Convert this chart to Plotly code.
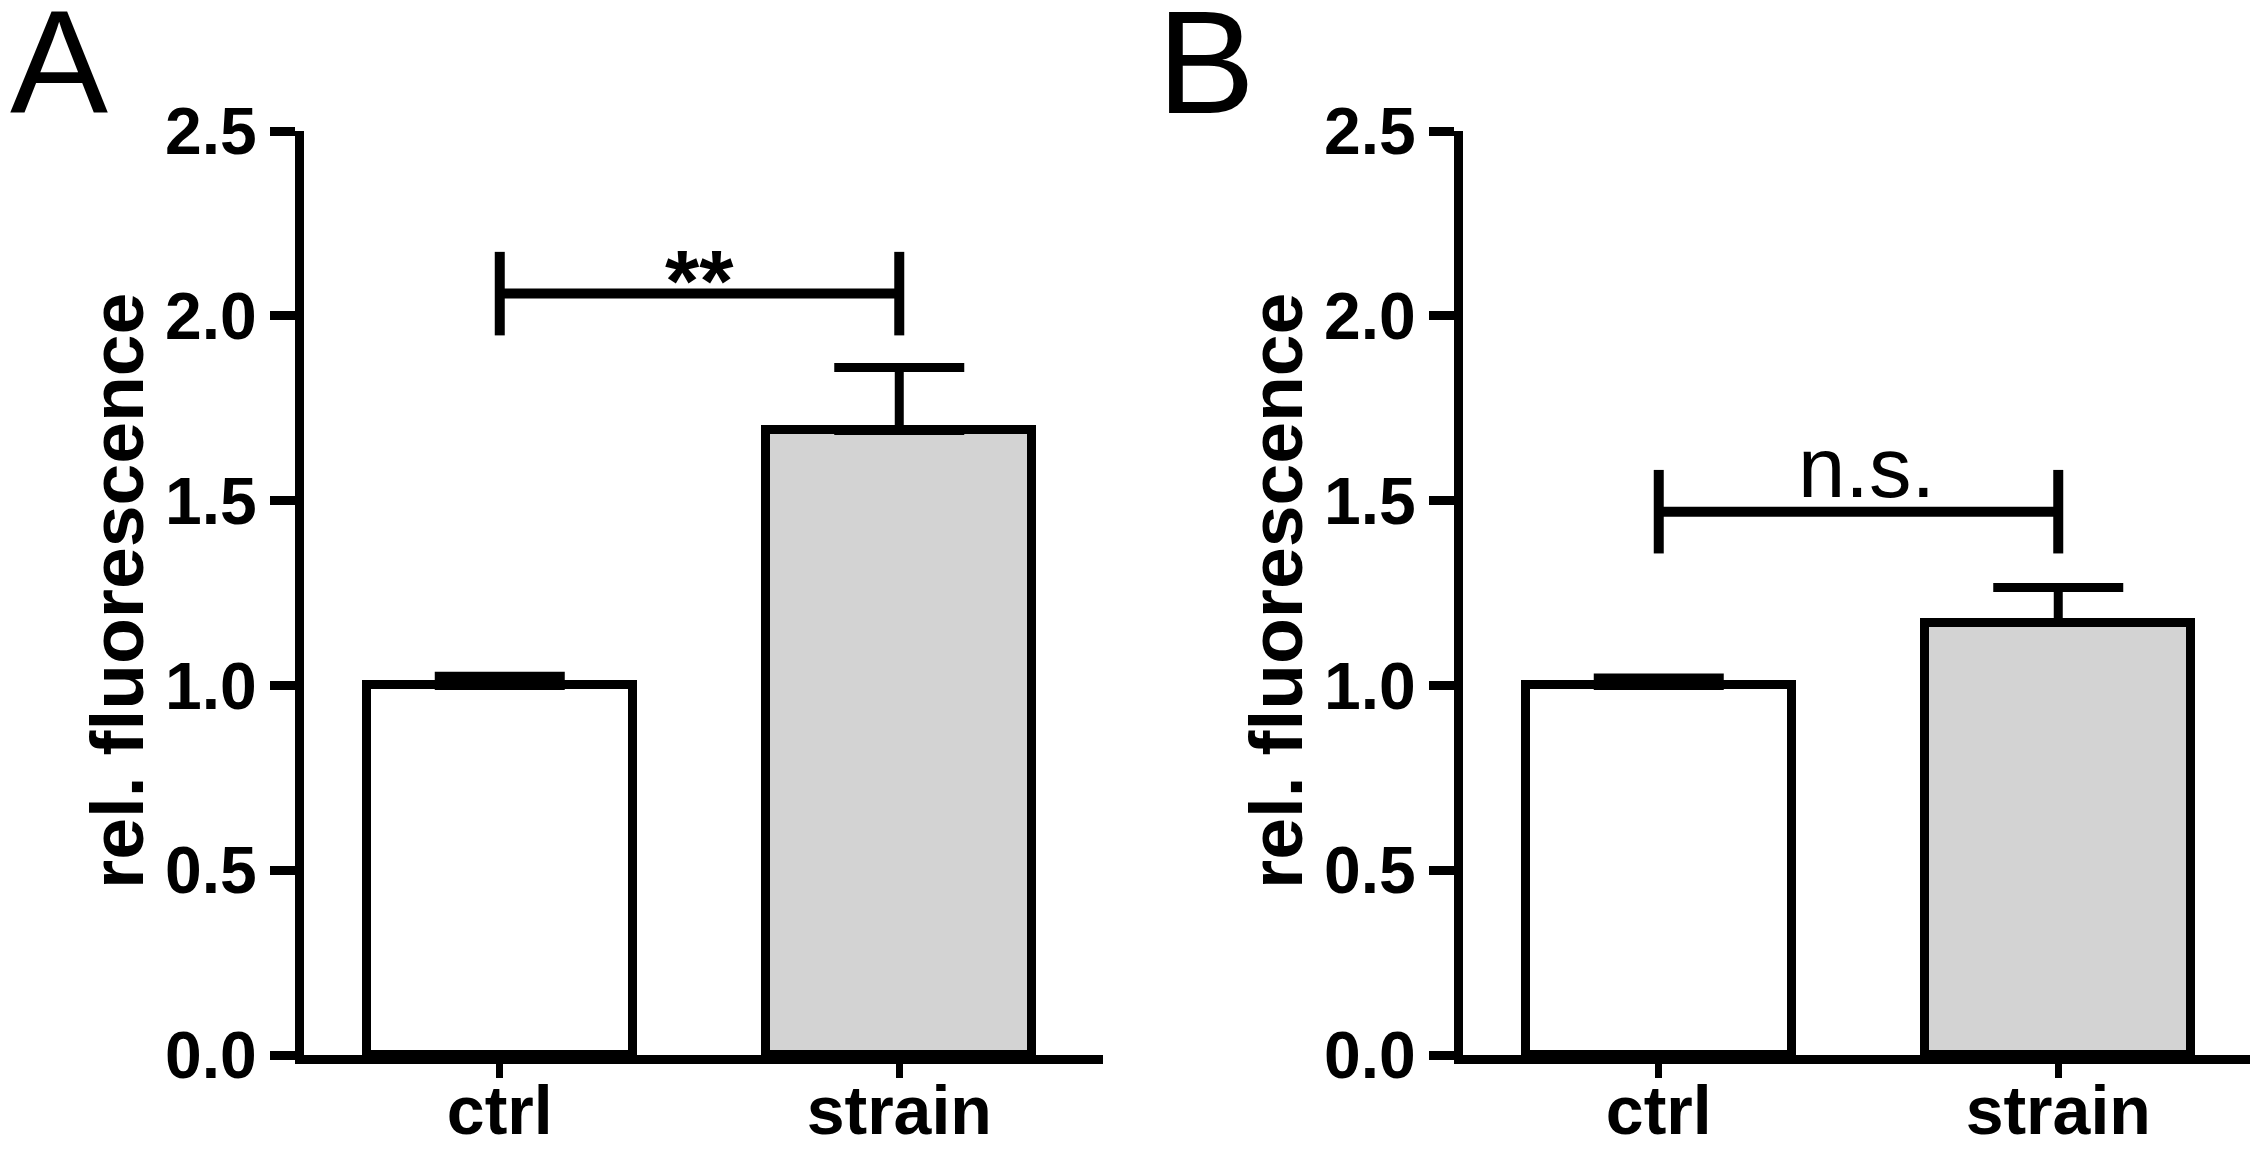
import plotly.graph_objects as go

# the page body keeps an 8 px margin, so the figure is laid out 8 px in from the window
OFF = 8
W, H = 2258 - OFF, 1151 - OFF

categories = ["ctrl", "strain"]
tick_vals = [0.0, 0.5, 1.0, 1.5, 2.0, 2.5]
tick_text = ["0.0", "0.5", "1.0", "1.5", "2.0", "2.5"]
y_title = "rel. fluorescence"

# panel A
means_a = [1.0, 1.69]
sem_a = [0.025, 0.17]
sig_a = "**"
bracket_a = 2.06

# panel B
means_b = [1.0, 1.17]
sem_b = [0.02, 0.095]
sig_b = "n.s."
bracket_b = 1.47

bracket_half = 0.113
bar_colors = ["white", "#d3d3d3"]

FONT = "Arial, Liberation Sans, sans-serif"


def px_x(p):
    return (p - OFF) / W


def px_y(p):
    return 1 - (p - OFF) / H


fig = go.Figure()

panels = [
    ("x", "y", means_a, sem_a, bracket_a),
    ("x2", "y2", means_b, sem_b, bracket_b),
]
for xa, ya, means, sem, br in panels:
    fig.add_trace(go.Bar(
        x=categories, y=means, xaxis=xa, yaxis=ya, width=0.665,
        marker=dict(color=bar_colors, line=dict(color="black", width=9)),
        error_y=dict(type="data", array=sem, arrayminus=[0, 0], symmetric=False,
                     color="black", thickness=9, width=65),
        showlegend=False,
    ))
    # significance bracket
    fig.add_trace(go.Scatter(
        x=[categories[0], categories[0], None, categories[0], categories[1], None,
           categories[1], categories[1]],
        y=[br + bracket_half, br - bracket_half, None, br, br, None,
           br + bracket_half, br - bracket_half],
        xaxis=xa, yaxis=ya, mode="lines",
        line=dict(color="black", width=10),
        showlegend=False, hoverinfo="skip",
    ))

ydomain = [px_y(1055), px_y(131)]

axis_common = dict(showgrid=False, zeroline=False, showline=True, linecolor="black",
                   linewidth=9, ticks="outside", tickcolor="black", automargin=False)

yaxis = dict(axis_common, range=[0, 2.5], domain=ydomain, tickvals=tick_vals,
             ticktext=tick_text, ticklen=25, tickwidth=9, ticklabelstandoff=0,
             tickfont=dict(family=FONT, size=66, color="black", weight="bold"))
xaxis = dict(axis_common, range=[-0.49, 1.51], ticklen=14, tickwidth=7,
             ticklabelstandoff=-26,
             tickfont=dict(family=FONT, size=68, color="black", weight="bold"))

fig.update_layout(
    template="none",
    width=W, height=H,
    margin=dict(l=0, r=0, t=0, b=0, pad=0),
    paper_bgcolor="white", plot_bgcolor="white",
    bargap=0,
    xaxis=dict(xaxis, domain=[px_x(304), px_x(1103)], anchor="y"),
    yaxis=dict(yaxis, anchor="x"),
    xaxis2=dict(xaxis, domain=[px_x(1463), 1.0], anchor="y2", range=[-0.49, 1.5]),
    yaxis2=dict(yaxis, anchor="x2"),
)

title_font = dict(family=FONT, size=75, color="black", weight="bold")
annotations = [
    dict(text="A", x=0, y=1, xref="paper", yref="paper", xanchor="left", yanchor="top",
         yshift=30, showarrow=False, font=dict(family=FONT, size=147, color="black")),
    dict(text="B", x=px_x(1155), y=1, xref="paper", yref="paper", xanchor="left",
         yanchor="top", yshift=30, showarrow=False,
         font=dict(family=FONT, size=147, color="black")),
    dict(text=y_title, x=px_x(117), y=px_y(591), xref="paper", yref="paper",
         xanchor="center", yanchor="middle", textangle=-90, showarrow=False,
         font=title_font),
    dict(text=y_title, x=px_x(117 + 1159), y=px_y(591), xref="paper", yref="paper",
         xanchor="center", yanchor="middle", textangle=-90, showarrow=False,
         font=title_font),
    dict(text=sig_a, x=0.5, y=bracket_a, xref="x", yref="y", xanchor="center",
         yanchor="bottom", yshift=-38, showarrow=False,
         font=dict(family=FONT, size=88, color="black", weight="bold")),
    dict(text=sig_b, x=0.5, y=bracket_b, xref="x2", yref="y2", xanchor="center",
         yanchor="bottom", xshift=8, yshift=-5, showarrow=False,
         font=dict(family=FONT, size=85, color="black")),
]
fig.update_layout(annotations=annotations)

fig.write_html("out.html")
